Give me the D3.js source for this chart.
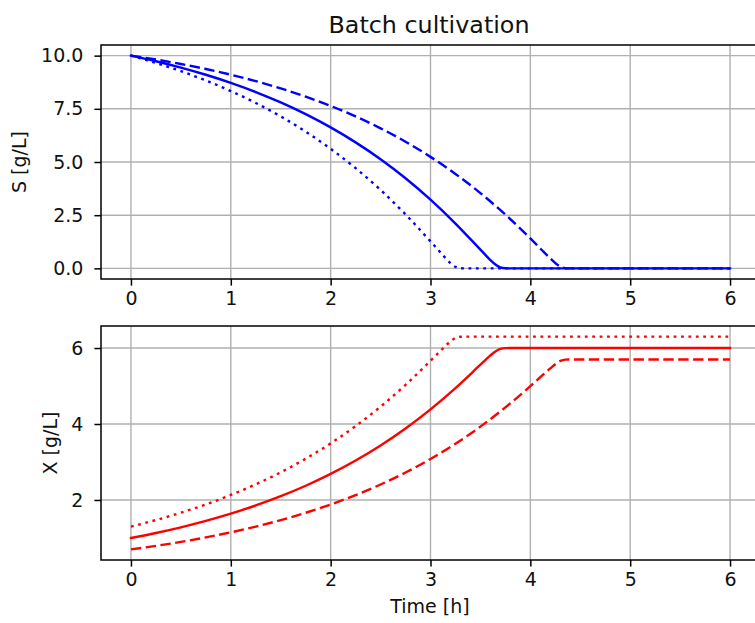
<!DOCTYPE html>
<html>
<head>
<meta charset="utf-8">
<script src="https://cdn.jsdelivr.net/npm/d3@7"></script>
<style>
  html, body { margin: 0; padding: 0; background: #fff; }
  svg { display: block; font-family: "DejaVu Sans", sans-serif; }
</style>
</head>
<body>
<svg id="chart" width="755" height="623"></svg>
<script>
// ---- Data ----
const title = "Batch cultivation";
const xTicks = [0, 1, 2, 3, 4, 5, 6];
const sTicks = [0, 2.5, 5, 7.5, 10];
const xBioTicks = [2, 4, 6];

// solid line (X0 = 1.0)
const tSolid = [0,0.25,0.5,0.75,1,1.25,1.5,1.75,2,2.25,2.5,2.75,3,3.25,3.5,3.6,3.65,3.7,3.75,3.8,6];
const sSolid = [10,9.736,9.439,9.101,8.72,8.288,7.80,7.249,6.627,5.923,5.129,4.235,3.228,2.107,0.88,0.39,0.18,0.04,0.003,0,0];
const xSolid = [1,1.1318,1.2807,1.4493,1.640,1.8558,2.0998,2.3753,2.6866,3.0386,3.4356,3.8826,4.3858,4.9466,5.56,5.805,5.91,5.98,5.9985,6,6];

// dotted line (X0 = 1.3)
const tDotted = [0,0.25,0.5,0.75,1,1.25,1.5,1.75,2,2.25,2.5,2.75,3,3.1,3.2,3.25,3.3,3.35,6];
const sDotted = [10,9.657,9.270,8.832,8.336,7.776,7.143,6.427,5.620,4.709,3.685,2.537,1.27,0.75,0.25,0.07,0.0055,0,0];
const xDotted = [1.3,1.4713,1.6649,1.8841,2.1318,2.4120,2.7286,3.0863,3.4902,3.9455,4.4577,5.0314,5.665,5.925,6.175,6.265,6.297,6.3,6.3];

// dashed line (X0 = 0.7)
const tDashed = [0,0.25,0.5,0.75,1,1.25,1.5,1.75,2,2.25,2.5,2.75,3,3.25,3.5,3.75,4,4.1,4.2,4.3,4.35,4.4,6];
const sDashed = [10,9.816,9.607,9.371,9.104,8.801,8.460,8.073,7.636,7.142,6.584,5.953,5.241,4.439,3.537,2.526,1.41,0.935,0.47,0.08,0.01,0,0];
const xDashed = [0.7,0.7922,0.8966,1.0146,1.1481,1.2993,1.4701,1.6634,1.8820,2.1289,2.4081,2.7233,3.0793,3.4804,3.9315,4.4371,4.997,5.2325,5.465,5.66,5.695,5.7,5.7];

// ---- Layout ----
const svg = d3.select("#chart");
const FONT = 18.75;
const LW = 2.4;
const axL = 101, axR = 760;
const top1 = 45, bot1 = 279;
const top2 = 326, bot2 = 560;

const x = d3.scaleLinear().domain([-0.3, 6.3]).range([axL, axR]);
const yS = d3.scaleLinear().domain([-0.5, 10.5]).range([bot1, top1]);
const yX = d3.scaleLinear().domain([0.42, 6.58]).range([bot2, top2]);

const styles = {
  solid: null,
  dotted: "2.8,4.6",
  dashed: "10.4,4.5"
};

function panel(yScale, yTop, yBot, yTickVals, yFmt, series, color, ylabel, ylabelX) {
  const g = svg.append("g");
  // grid
  g.append("g").selectAll("line").data(xTicks).join("line")
    .attr("x1", d => x(d)).attr("x2", d => x(d))
    .attr("y1", yTop).attr("y2", yBot)
    .attr("stroke", "#b0b0b0").attr("stroke-width", 1.4);
  g.append("g").selectAll("line").data(yTickVals).join("line")
    .attr("x1", axL).attr("x2", axR)
    .attr("y1", d => yScale(d)).attr("y2", d => yScale(d))
    .attr("stroke", "#b0b0b0").attr("stroke-width", 1.4);

  // lines
  series.forEach(s => {
    const line = d3.line()
      .x((d, i) => x(s.t[i]))
      .y(d => yScale(d))
      .curve(d3.curveMonotoneX);
    g.append("path")
      .datum(s.v)
      .attr("d", line)
      .attr("fill", "none")
      .attr("stroke", color)
      .attr("stroke-width", LW)
      .attr("stroke-dasharray", styles[s.style])
      .attr("stroke-linecap", s.style === "solid" ? "square" : "butt")
      .attr("stroke-linejoin", "round");
  });

  // spines
  g.append("rect")
    .attr("x", axL).attr("y", yTop)
    .attr("width", axR - axL).attr("height", yBot - yTop)
    .attr("fill", "none").attr("stroke", "#000").attr("stroke-width", 1.5);

  // axes
  const xa = g.append("g").attr("transform", `translate(0,${yBot})`)
    .call(d3.axisBottom(x).tickValues(xTicks).tickFormat(d3.format("d"))
      .tickSize(6.6).tickSizeOuter(0).tickPadding(6.1));
  const ya = g.append("g").attr("transform", `translate(${axL},0)`)
    .call(d3.axisLeft(yScale).tickValues(yTickVals).tickFormat(yFmt)
      .tickSize(6.6).tickSizeOuter(0).tickPadding(11));
  [xa, ya].forEach(a => {
    a.select(".domain").remove();
    a.selectAll(".tick line").attr("stroke", "#000").attr("stroke-width", 1.5);
    a.selectAll(".tick text").attr("fill", "#111")
      .style("font-family", "DejaVu Sans").style("font-size", "19px");
  });

  // y label
  g.append("text")
    .attr("transform", `translate(${ylabelX},${(yTop + yBot) / 2}) rotate(-90)`)
    .attr("text-anchor", "middle")
    .style("font-size", "19px")
    .attr("fill", "#111")
    .text(ylabel);
}

panel(yS, top1, bot1, sTicks, d3.format(".1f"),
  [{t: tSolid, v: sSolid, style: "solid"},
   {t: tDotted, v: sDotted, style: "dotted"},
   {t: tDashed, v: sDashed, style: "dashed"}],
  "#0000ff", "S [g/L]", 26);

panel(yX, top2, bot2, xBioTicks, d3.format("d"),
  [{t: tSolid, v: xSolid, style: "solid"},
   {t: tDotted, v: xDotted, style: "dotted"},
   {t: tDashed, v: xDashed, style: "dashed"}],
  "#ff0000", "X [g/L]", 57);

// title
svg.append("text")
  .attr("x", 429).attr("y", 32.5)
  .attr("text-anchor", "middle")
  .style("font-size", "23.8px")
  .attr("fill", "#111")
  .text(title);

// x label
svg.append("text")
  .attr("x", (axL + axR) / 2 - 0.5).attr("y", 613)
  .attr("text-anchor", "middle")
  .style("font-size", "19px")
  .attr("fill", "#111")
  .text("Time [h]");
</script>
</body>
</html>
